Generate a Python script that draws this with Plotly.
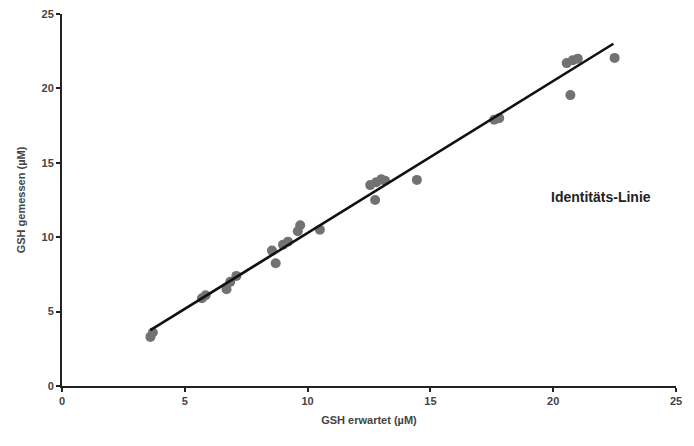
import plotly.graph_objects as go

# Measured points
gsh_expected = [3.6, 3.7, 5.7, 5.85, 6.7, 6.85, 7.1, 8.55, 8.7, 9.0, 9.2, 9.6, 9.7, 10.5,
                12.55, 12.75, 12.8, 13.0, 13.15, 14.45, 17.6, 17.8, 20.55, 20.7, 20.8, 21.0, 22.5]
gsh_measured = [3.3, 3.6, 5.9, 6.1, 6.5, 7.0, 7.4, 9.1, 8.25, 9.5, 9.7, 10.4, 10.8, 10.5,
                13.5, 12.5, 13.7, 13.9, 13.8, 13.85, 17.9, 18.0, 21.7, 19.55, 21.9, 22.0, 22.05]

# Line endpoints
line_x = [3.6, 22.45]
line_y = [3.75, 23.0]

tick_vals = [0, 5, 10, 15, 20, 25]
tick_text = ["0", "5", "10", "15", "20", "25"]

font_family = "Liberation Sans, Arial, sans-serif"

fig = go.Figure()
fig.add_trace(go.Scatter(
    x=gsh_expected, y=gsh_measured, mode="markers",
    marker=dict(size=10, color="#727272", line=dict(width=0)),
    showlegend=False, hoverinfo="skip"))
fig.add_trace(go.Scatter(
    x=line_x, y=line_y, mode="lines",
    line=dict(color="#111111", width=2.6),
    showlegend=False, hoverinfo="skip"))

fig.add_annotation(x=21.95, y=12.7, text="<b>Identitäts-Linie</b>", showarrow=False,
                   font=dict(family=font_family, size=14, color="#222222"))

axis_common = dict(
    range=[0, 25], tickvals=tick_vals, ticktext=tick_text,
    showgrid=False, zeroline=False, showline=True, linecolor="#222222", linewidth=2,
    ticks="outside", ticklen=4, tickwidth=2, tickcolor="#222222",
    ticklabeloverflow="allow", automargin=False,
    tickfont=dict(family=font_family, size=11, color="#444444", weight="bold"),
)

fig.update_layout(
    width=694, height=446,
    margin=dict(l=54, r=26, t=6, b=68, autoexpand=False),
    paper_bgcolor="white", plot_bgcolor="white",
    xaxis=dict(axis_common, title=dict(text="GSH erwartet (µM)", standoff=10,
               font=dict(family=font_family, size=11, color="#444444", weight="bold"))),
    yaxis=dict(axis_common, title=dict(text="GSH gemessen (µM)", standoff=14,
               font=dict(family=font_family, size=11, color="#444444", weight="bold"))),
)

fig.write_html("out.html")
